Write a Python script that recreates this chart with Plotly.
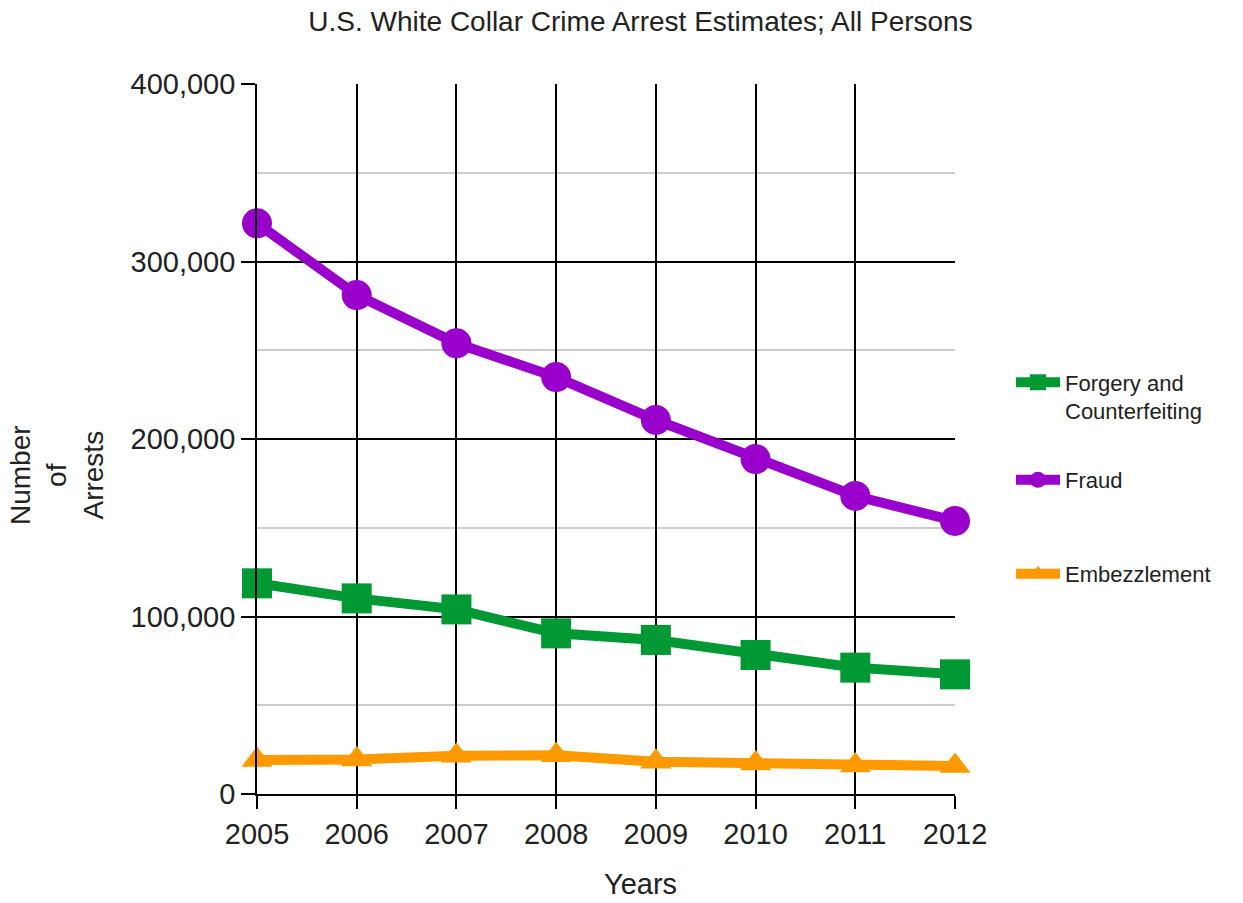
import plotly.graph_objects as go

# Estimated arrests by year (United States, all persons)
years = [2005, 2006, 2007, 2008, 2009, 2010, 2011, 2012]
forgery = [118700, 110200, 104000, 90500, 86800, 78300, 71200, 67400]
fraud = [321500, 281100, 253900, 234900, 210700, 188700, 167900, 153800]
embezzlement = [19200, 19500, 21600, 21800, 18200, 17200, 16100, 15800]

series_names = ["Forgery and<br>Counterfeiting", "Fraud", "Embezzlement"]
series_colors = ["#009933", "#9900CC", "#FF9900"]
series_symbols = ["square", "circle", "triangle-up"]
series_sizes = [30, 30, 27]
legend_ids = ["legend", "legend2", "legend3"]

FONT = "Liberation Sans, Arial, Helvetica, sans-serif"
TEXT = "#222222"

W, H = 1243, 903
L, R, T, B = 257, 288, 84, 109

fig = go.Figure()
for name, vals, col, sym, sz, lg in zip(series_names, [forgery, fraud, embezzlement],
                                         series_colors, series_symbols, series_sizes, legend_ids):
    fig.add_trace(go.Scatter(
        x=years, y=vals, name=name, mode="lines+markers",
        line=dict(color=col, width=10),
        marker=dict(symbol=sym, size=sz, color=col),
        cliponaxis=False, legend=lg, hoverinfo="skip", showlegend=True,
    ))

# one legend per series so each entry sits at its own height
def py(px):
    return (H - B - px) / (H - T - B)

legend_common = dict(
    font=dict(family=FONT, size=22, color=TEXT),
    x=(1011 - L) / (W - L - R), xanchor="left", yanchor="middle",
    itemwidth=44, bgcolor="rgba(0,0,0,0)", borderwidth=0, valign="top",
    visible=True,
)

GRID = 1.7

fig.update_layout(
    width=W, height=H,
    margin=dict(l=L, r=R, t=T, b=B, autoexpand=False),
    paper_bgcolor="white", plot_bgcolor="white",
    font=dict(family=FONT, color=TEXT),
    showlegend=True,
    title=dict(
        text="U.S. White Collar Crime Arrest Estimates; All Persons",
        font=dict(family=FONT, size=28, color=TEXT),
        xref="container", yref="container",
        x=640.5 / W, xanchor="center", y=1 - 21 / H, yanchor="middle",
    ),
    legend=dict(y=py(397), **legend_common),
    legend2=dict(y=py(480), **legend_common),
    legend3=dict(y=py(574), **legend_common),
    xaxis=dict(
        range=[years[0], years[-1]], tickmode="array", tickvals=years,
        ticktext=[str(y) for y in years],
        showgrid=True, gridcolor="#000000", gridwidth=GRID,
        showline=True, linecolor="#000000", linewidth=GRID,
        ticks="outside", ticklen=13, tickcolor="#000000", tickwidth=GRID,
        tickfont=dict(family=FONT, size=29, color=TEXT),
        zeroline=False, fixedrange=True,
    ),
    yaxis=dict(
        range=[0, 400000], tickmode="linear", tick0=0, dtick=100000,
        tickformat=",d",
        showgrid=True, gridcolor="#000000", gridwidth=GRID,
        showline=True, linecolor="#000000", linewidth=GRID,
        ticks="outside", ticklen=14, tickcolor="#000000", tickwidth=GRID,
        tickfont=dict(family=FONT, size=29, color=TEXT),
        minor=dict(tick0=0, dtick=50000, showgrid=True, gridcolor="#cccccc",
                   gridwidth=1.6, ticks=""),
        zeroline=False, fixedrange=True,
    ),
    annotations=[
        dict(text="Years", xref="paper", yref="paper",
             x=(640 - L) / (W - L - R), y=py(884), xanchor="center", yanchor="middle",
             showarrow=False, font=dict(family=FONT, size=29, color=TEXT)),
        dict(text="Number<br>of<br>Arrests", xref="paper", yref="paper",
             x=(57 - L) / (W - L - R), y=py(475), xanchor="center", yanchor="middle",
             textangle=-90, showarrow=False,
             font=dict(family=FONT, size=28, color=TEXT)),
    ],
)

fig.write_html("out.html")
